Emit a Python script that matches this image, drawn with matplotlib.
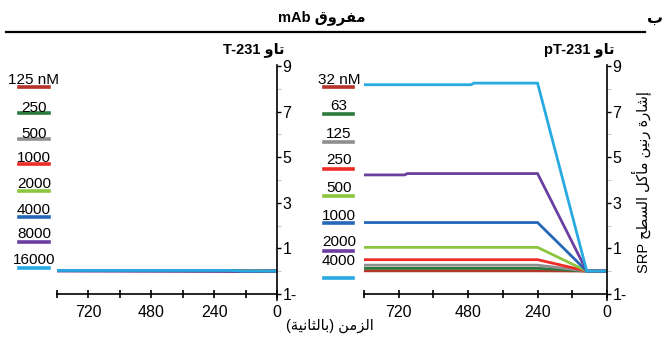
import matplotlib
matplotlib.use("Agg")
import matplotlib.pyplot as plt
from matplotlib.ticker import FixedLocator, FuncFormatter

plt.rcParams['font.family'] = ['Liberation Sans', 'DejaVu Sans']

# ---------------- data ----------------
colors = ['#b5342b', '#2b7a3b', '#8f8f8f', '#ee2b24',
          '#8cc63e', '#2468b8', '#6b3fa0', '#27aae1']

# pT-231 panel (concentrations in nM)
conc_pt = ['32 nM', '63', '125', '250', '500', '1000', '2000', '4000']
t_pt = [840, 700, 690, 470, 460, 240, 70, 0]
pt_32 = [0.01, 0.01, 0.01, 0.01, 0.01, 0.01, 0.0, 0.0]
pt_63 = [0.12, 0.12, 0.12, 0.12, 0.12, 0.12, 0.0, 0.0]
pt_125 = [0.26, 0.26, 0.26, 0.26, 0.26, 0.26, 0.0, 0.0]
pt_250 = [0.50, 0.50, 0.50, 0.50, 0.50, 0.50, 0.0, 0.0]
pt_500 = [1.04, 1.04, 1.04, 1.04, 1.04, 1.04, 0.0, 0.0]
pt_1000 = [2.13, 2.13, 2.13, 2.13, 2.13, 2.13, 0.0, 0.0]
pt_2000 = [4.22, 4.22, 4.28, 4.28, 4.28, 4.28, 0.0, 0.0]
pt_4000 = [8.18, 8.18, 8.18, 8.18, 8.25, 8.25, 0.0, 0.0]
series_pt = [pt_32, pt_63, pt_125, pt_250, pt_500, pt_1000, pt_2000, pt_4000]

# T-231 panel (concentrations in nM)
conc_t = ['125 nM', '250', '500', '1000', '2000', '4000', '8000', '16000']
t_t = [840, 190, 130, 0]
t_125 = [0.02, 0.02, 0.0, 0.0]
t_250 = [0.02, 0.02, 0.0, 0.0]
t_500 = [0.02, 0.02, 0.0, 0.0]
t_1000 = [0.02, 0.02, 0.0, 0.0]
t_2000 = [0.02, 0.02, 0.0, 0.0]
t_4000 = [0.02, 0.02, 0.0, 0.0]
t_8000 = [0.0, -0.02, -0.02, 0.0]
t_16000 = [0.03, 0.03, 0.0, 0.0]
series_t = [t_125, t_250, t_500, t_1000, t_2000, t_4000, t_8000, t_16000]

x_major = [0, 240, 480, 720]
x_minor = [120, 360, 600, 840]
y_major = [-1, 1, 3, 5, 7, 9]
y_minor = [0, 2, 4, 6, 8]

# ---------------- Arabic shaping ----------------
FORMS = {
    'ا': ('\uFE8D', '\uFE8E', None, None),
    'أ': ('\uFE83', '\uFE84', None, None),
    'إ': ('\uFE87', '\uFE88', None, None),
    'ب': ('\uFE8F', '\uFE90', '\uFE91', '\uFE92'),
    'ة': ('\uFE93', '\uFE94', None, None),
    'ت': ('\uFE95', '\uFE96', '\uFE97', '\uFE98'),
    'ث': ('\uFE99', '\uFE9A', '\uFE9B', '\uFE9C'),
    'ح': ('\uFEA1', '\uFEA2', '\uFEA3', '\uFEA4'),
    'ر': ('\uFEAD', '\uFEAE', None, None),
    'ز': ('\uFEAF', '\uFEB0', None, None),
    'س': ('\uFEB1', '\uFEB2', '\uFEB3', '\uFEB4'),
    'ش': ('\uFEB5', '\uFEB6', '\uFEB7', '\uFEB8'),
    'ط': ('\uFEC1', '\uFEC2', '\uFEC3', '\uFEC4'),
    'ف': ('\uFED1', '\uFED2', '\uFED3', '\uFED4'),
    'ق': ('\uFED5', '\uFED6', '\uFED7', '\uFED8'),
    'ك': ('\uFED9', '\uFEDA', '\uFEDB', '\uFEDC'),
    'ل': ('\uFEDD', '\uFEDE', '\uFEDF', '\uFEE0'),
    'م': ('\uFEE1', '\uFEE2', '\uFEE3', '\uFEE4'),
    'ن': ('\uFEE5', '\uFEE6', '\uFEE7', '\uFEE8'),
    'و': ('\uFEED', '\uFEEE', None, None),
    'ي': ('\uFEF1', '\uFEF2', '\uFEF3', '\uFEF4'),
}


def ar(text):
    """Shape Arabic letters into presentation forms, in visual order."""
    out = []
    prev_joins = False
    for i, c in enumerate(text):
        if c not in FORMS:
            out.append(c)
            prev_joins = False
            continue
        nxt = text[i + 1] if i + 1 < len(text) else None
        joins_next = FORMS[c][2] is not None and nxt in FORMS
        iso, fin, ini, med = FORMS[c]
        if prev_joins and joins_next:
            g = med
        elif prev_joins:
            g = fin
        elif joins_next:
            g = ini
        else:
            g = iso
        out.append(g)
        prev_joins = joins_next
    return ''.join(reversed(out))


# ---------------- figure ----------------
W, H = 664, 339
fig = plt.figure(figsize=(W / 100, H / 100), dpi=100)


def fx(x):
    return x / W


def fy(y):
    return 1 - y / H


y_lo, y_hi = -1.27, 9.05
ax_bottom = fy(300)
ax_height = fy(64.9) - ax_bottom

ax_t = fig.add_axes([fx(57), ax_bottom, fx(277 - 57), ax_height])
ax_pt = fig.add_axes([fx(364), ax_bottom, fx(607 - 364), ax_height])

TICK_FS = 11.5
LEG_FS = 11


def style_axis(ax):
    ax.set_xlim(840, 0)
    ax.set_ylim(y_lo, y_hi)
    ax.spines['top'].set_visible(False)
    ax.spines['left'].set_visible(False)
    ax.spines['right'].set_linewidth(1.2)
    ax.spines['bottom'].set_linewidth(1.2)
    ax.spines['bottom'].set_position(('data', -1))
    ax.xaxis.set_major_locator(FixedLocator(x_major))
    ax.xaxis.set_minor_locator(FixedLocator(x_minor))
    ax.yaxis.set_major_locator(FixedLocator(y_major))
    ax.yaxis.set_minor_locator(FixedLocator(y_minor))
    ax.yaxis.tick_right()
    ax.yaxis.set_major_formatter(
        FuncFormatter(lambda v, p: f"{abs(int(v))}-" if v < 0 else f"{int(v)}"))
    ax.tick_params(axis='x', which='both', direction='inout', length=6,
                   width=1.2, labelsize=TICK_FS, pad=5)
    ax.tick_params(axis='y', which='major', direction='out', length=3,
                   width=1.0, labelsize=TICK_FS, pad=1, right=True, left=False,
                   labelright=True, labelleft=False)
    ax.tick_params(axis='y', which='minor', direction='out', length=3,
                   width=0.8, color='#c8c8c8', right=True, left=False)
    ax.patch.set_visible(False)


style_axis(ax_t)
style_axis(ax_pt)

for vals, c in zip(series_pt, colors):
    ax_pt.plot(t_pt, vals, color=c, lw=2.0, solid_capstyle='butt',
               solid_joinstyle='miter', clip_on=False)
for vals, c in zip(series_t, colors):
    ax_t.plot(t_t, vals, color=c, lw=2.0, solid_capstyle='butt', clip_on=False)

# legends drawn as stacked labels with a colour bar beneath each
leg_pt_bar_y = [87, 114, 142, 169, 196, 223, 251, 278]
leg_pt_txt_y = [79.5, 106.5, 133.5, 160.5, 188.5, 215.5, 242.5, 261]
for lab, c, yb, yt in zip(conc_pt, colors, leg_pt_bar_y, leg_pt_txt_y):
    fig.add_artist(plt.Line2D([fx(324), fx(353)], [fy(yb), fy(yb)],
                              color=c, lw=2.6, transform=fig.transFigure))
    fig.text(fx(339), fy(yt), lab, ha='center', va='center', fontsize=LEG_FS)

leg_t_bar_y = [87, 113, 139, 164, 191, 217, 242, 268]
leg_t_txt_y = [80.5, 107.5, 133.5, 158.5, 183.5, 209.5, 234.5, 260.5]
for lab, c, yb, yt in zip(conc_t, colors, leg_t_bar_y, leg_t_txt_y):
    fig.add_artist(plt.Line2D([fx(19), fx(49)], [fy(yb), fy(yb)],
                              color=c, lw=2.6, transform=fig.transFigure))
    fig.text(fx(34), fy(yt), lab, ha='center', va='center', fontsize=LEG_FS)

# headings
fig.text(fx(655), fy(18), ar('ب'), ha='center', va='center',
         fontsize=11.5, fontweight='bold')
fig.text(fx(322), fy(18), 'mAb ' + ar('مفروق'), ha='center', va='center',
         fontsize=10.5, fontweight='bold')
fig.add_artist(plt.Line2D([fx(6), fx(645)], [fy(32), fy(32)], color='black',
                          lw=1.6, transform=fig.transFigure))
fig.text(fx(285), fy(50), 'T-231 ' + ar('تاو'), ha='right', va='center',
         fontsize=10.5, fontweight='bold')
fig.text(fx(615), fy(50), 'pT-231 ' + ar('تاو'), ha='right', va='center',
         fontsize=10.5, fontweight='bold')

# axis titles
fig.text(fx(641), fy(182), 'SRP ' + ar('إشارة رنين مأكل السطح'),
         rotation=90, ha='center', va='center', fontsize=10.5)
fig.text(fx(330), fy(326), '(' + ar('بالثانية') + ') ' + ar('الزمن'),
         ha='center', va='center', fontsize=10.5)

fig.savefig('out.png', dpi=100, facecolor='white')
